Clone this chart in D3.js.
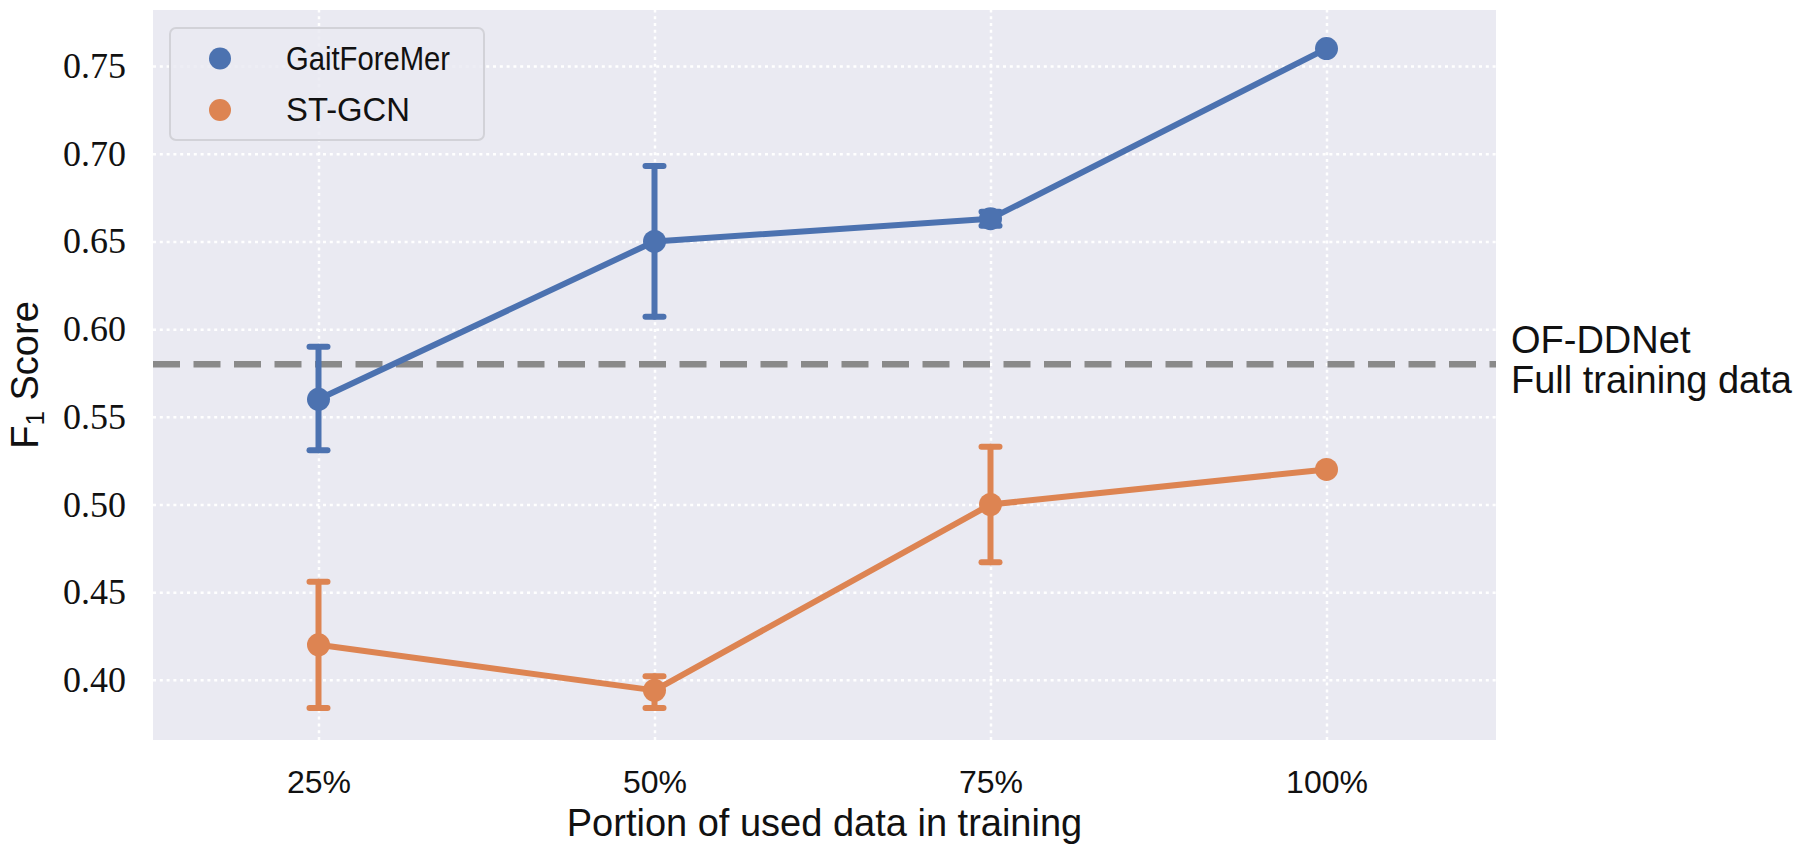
<!DOCTYPE html>
<html>
<head>
<meta charset="utf-8">
<script src="https://cdn.jsdelivr.net/npm/d3@7"></script>
<style>
  body { margin: 0; background: #fff; }
  svg { display: block; }
  .sans { font-family: "Liberation Sans", Arial, sans-serif; fill: #111; }
  .serif { font-family: "Liberation Serif", "Times New Roman", serif; fill: #111; }
</style>
</head>
<body>
<div id="chart"></div>
<script>

// data
var categories = ["25%", "50%", "75%", "100%"];

var gaitMean = [0.560, 0.650, 0.663, 0.760];
var gaitLo   = [0.531, 0.607, 0.659, null];
var gaitHi   = [0.590, 0.693, 0.667, null];

var stgcnMean = [0.420, 0.394, 0.500, 0.520];
var stgcnLo   = [0.384, 0.384, 0.467, null];
var stgcnHi   = [0.456, 0.402, 0.533, null];

var seriesNames = ["GaitForeMer", "ST-GCN"];
var seriesColors = ["#4C72B0", "#DD8452"];

var yTicks = [0.40, 0.45, 0.50, 0.55, 0.60, 0.65, 0.70, 0.75];
var baselineValue = 0.58;
var baselineLabel = ["OF-DDNet", "Full training data"];

var W = 1800, H = 849;
var plot = { left: 153, right: 1496, top: 10, bottom: 740 };

var svg = d3.select("#chart").append("svg")
    .attr("width", W)
    .attr("height", H);

// scales
var x = d3.scalePoint()
    .domain(categories)
    .range([150.5, 1494.5])
    .padding(0.5);

var y = d3.scaleLinear()
    .domain([0.3657, 0.782])
    .range([plot.bottom, plot.top]);

// background
svg.append("rect")
    .attr("x", plot.left)
    .attr("y", plot.top)
    .attr("width", plot.right - plot.left)
    .attr("height", plot.bottom - plot.top)
    .attr("fill", "#EAEAF2");

// y axis + grid
var yAxis = d3.axisLeft(y)
    .tickValues(yTicks)
    .tickFormat(d3.format(".2f"))
    .tickSize(-(plot.right - plot.left))
    .tickPadding(27);

var gy = svg.append("g")
    .attr("transform", "translate(" + plot.left + ",0)")
    .call(yAxis);

// x axis + grid
var xAxis = d3.axisBottom(x)
    .tickSize(-(plot.bottom - plot.top))
    .tickPadding(30);

var gx = svg.append("g")
    .attr("transform", "translate(0," + plot.bottom + ")")
    .call(xAxis);

[gx, gy].forEach(function (g) {
    g.select(".domain").remove();
    g.selectAll(".tick line")
        .attr("stroke", "#ffffff")
        .attr("stroke-width", 2.5)
        .attr("stroke-dasharray", "3 3.8");
});

gy.selectAll(".tick text")
    .attr("class", "serif")
    .attr("font-size", 36)
    .attr("fill", "#111");

gx.selectAll(".tick text")
    .attr("class", "sans")
    .attr("font-size", 32)
    .attr("fill", "#111")
    .attr("y", 53)
    .attr("dy", 0);

// reference line
svg.append("line")
    .attr("x1", plot.left)
    .attr("x2", plot.right)
    .attr("y1", y(baselineValue))
    .attr("y2", y(baselineValue))
    .attr("stroke", "#8a8a8a")
    .attr("stroke-width", 6.5)
    .attr("stroke-dasharray", "27 13.5");

var note = svg.append("text")
    .attr("class", "sans")
    .attr("x", 1511)
    .attr("y", y(baselineValue) - 11)
    .attr("font-size", 38);
note.selectAll("tspan")
    .data(baselineLabel)
    .enter().append("tspan")
    .attr("x", 1511)
    .attr("dy", function (d, i) { return i === 0 ? 0 : 40; })
    .text(function (d) { return d; });

// series
var series = [
    { name: seriesNames[0], color: seriesColors[0], mean: gaitMean, lo: gaitLo, hi: gaitHi },
    { name: seriesNames[1], color: seriesColors[1], mean: stgcnMean, lo: stgcnLo, hi: stgcnHi }
];

var line = d3.line()
    .x(function (d) { return x(d.cat); })
    .y(function (d) { return y(d.v); });

series.forEach(function (s) {
    var pts = categories.map(function (c, i) {
        return { cat: c, v: s.mean[i], lo: s.lo[i], hi: s.hi[i] };
    });
    var g = svg.append("g");
    var errs = pts.filter(function (d) { return d.lo !== null; });

    // error bars
    g.selectAll("line.err").data(errs).enter().append("line")
        .attr("x1", function (d) { return x(d.cat); })
        .attr("x2", function (d) { return x(d.cat); })
        .attr("y1", function (d) { return y(d.lo); })
        .attr("y2", function (d) { return y(d.hi); })
        .attr("stroke", s.color)
        .attr("stroke-width", 6)
        .attr("stroke-linecap", "round");

    ["lo", "hi"].forEach(function (k) {
        g.selectAll("line.cap" + k).data(errs).enter().append("line")
            .attr("x1", function (d) { return x(d.cat) - 9; })
            .attr("x2", function (d) { return x(d.cat) + 9; })
            .attr("y1", function (d) { return y(d[k]); })
            .attr("y2", function (d) { return y(d[k]); })
            .attr("stroke", s.color)
            .attr("stroke-width", 6)
            .attr("stroke-linecap", "round");
    });

    g.append("path")
        .attr("d", line(pts))
        .attr("fill", "none")
        .attr("stroke", s.color)
        .attr("stroke-width", 6)
        .attr("stroke-linejoin", "round");

    g.selectAll("circle").data(pts).enter().append("circle")
        .attr("cx", function (d) { return x(d.cat); })
        .attr("cy", function (d) { return y(d.v); })
        .attr("r", 11.5)
        .attr("fill", s.color);
});

// axis labels
svg.append("text")
    .attr("class", "sans")
    .attr("x", (plot.left + plot.right) / 2)
    .attr("y", 836)
    .attr("text-anchor", "middle")
    .attr("font-size", 38)
    .text("Portion of used data in training");

var yl = svg.append("text")
    .attr("class", "sans")
    .attr("transform", "translate(38," + (plot.top + plot.bottom) / 2 + ") rotate(-90)")
    .attr("text-anchor", "middle")
    .attr("font-size", 38);
yl.append("tspan").text("F");
yl.append("tspan").attr("font-size", 26).attr("dy", 6).text("1");
yl.append("tspan").attr("dy", -6).text(" Score");

// legend
var legend = svg.append("g");
legend.append("rect")
    .attr("x", 170)
    .attr("y", 28)
    .attr("width", 314)
    .attr("height", 112)
    .attr("rx", 6)
    .attr("fill", "#EAEAF2")
    .attr("fill-opacity", 0.85)
    .attr("stroke", "#d2d2d8")
    .attr("stroke-width", 2);

var items = legend.selectAll("g.item").data(series).enter().append("g")
    .attr("transform", function (d, i) { return "translate(0," + (58.5 + i * 51.5) + ")"; });
items.append("circle")
    .attr("cx", 220)
    .attr("cy", 0)
    .attr("r", 11)
    .attr("fill", function (d) { return d.color; });
items.append("text")
    .attr("class", "sans")
    .attr("x", 286)
    .attr("y", 11)
    .attr("font-size", 33)
    .attr("textLength", function (d, i) { return i === 0 ? 164 : 124; })
    .attr("lengthAdjust", "spacingAndGlyphs")
    .text(function (d) { return d.name; });

</script>
</body>
</html>
